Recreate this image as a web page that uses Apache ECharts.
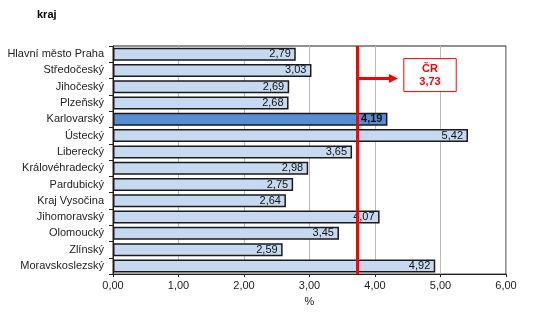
<!DOCTYPE html>
<html><head><meta charset="utf-8">
<script src="https://cdn.jsdelivr.net/npm/echarts@6/dist/echarts.min.js"></script>
<style>html,body{margin:0;padding:0;background:#fff}#c{width:535px;height:312px}</style>
</head><body><div id="c"></div>
<script>
var categories = ["Hlavní město Praha","Středočeský","Jihočeský","Plzeňský","Karlovarský","Ústecký","Liberecký","Královéhradecký","Pardubický","Kraj Vysočina","Jihomoravský","Olomoucký","Zlínský","Moravskoslezský"];
var values = [2.79,3.03,2.69,2.68,4.19,5.42,3.65,2.98,2.75,2.64,4.07,3.45,2.59,4.92];
var highlight = "Karlovarský";
var crValue = 3.73;
var crLabel = "ČR";
var axisTicks = [0,1,2,3,4,5,6];

var fmt = function(v){ return v.toFixed(2).replace('.', ','); };
var chart = echarts.init(document.getElementById('c'));
var data = values.map(function(v,i){
  var hl = categories[i] === highlight;
  return {value:v, itemStyle:{color: hl ? '#558ed5' : '#c6d9f1'},
    label:{fontWeight: hl ? 'bold' : 'normal'}};
});
chart.setOption({
  animation:false,
  title:{text:'kraj', left:32, top:4, textStyle:{fontFamily:'Liberation Sans', fontSize:11, fontWeight:'bold', color:'#000'}},
  grid:{left:113, right:29, top:46, bottom:31, show:true, borderColor:'#222', borderWidth:1},
  xAxis:{type:'value', min:axisTicks[0], max:axisTicks[axisTicks.length-1], interval:1,
    name:'%', nameLocation:'middle', nameGap:17,
    nameTextStyle:{fontFamily:'Liberation Sans', fontSize:11, color:'#222', padding:[0,0,0,0]},
    axisLine:{show:true, lineStyle:{color:'#222'}},
    axisTick:{show:true, length:3, lineStyle:{color:'#222'}},
    axisLabel:{formatter:function(v){return fmt(v);}, fontFamily:'Liberation Sans', fontSize:11, color:'#222', margin:6},
    splitLine:{show:true, lineStyle:{color:'#bbb'}}},
  yAxis:{type:'category', data:categories, inverse:true,
    axisLine:{show:true, lineStyle:{color:'#222'}},
    axisTick:{show:true, length:4, lineStyle:{color:'#222'}},
    axisLabel:{fontFamily:'Liberation Sans', fontSize:11, color:'#222', margin:9}},
  series:[{type:'bar', data:data, barWidth:13,
    itemStyle:{borderColor:'#1a1a1a', borderWidth:1.5},
    label:{show:true, position:'insideRight', distance:5, formatter:function(p){return fmt(p.value);},
      fontFamily:'Liberation Sans', fontSize:11, color:'#111'},
    markLine:{silent:true, symbol:['none','none'], label:{show:false},
      lineStyle:{color:'#ff0000', width:3, type:'solid'},
      data:[{xAxis:crValue}]}
  }]
});
function addAnn(){
  var x0 = chart.convertToPixel({xAxisIndex:0}, crValue);
  var y1 = chart.convertToPixel({yAxisIndex:0}, categories[1]);
  var y2 = chart.convertToPixel({yAxisIndex:0}, categories[2]);
  var ya = (y1+y2)/2;
  var xe = chart.convertToPixel({xAxisIndex:0}, 4.35);
  var bx0 = chart.convertToPixel({xAxisIndex:0}, 4.44);
  var bx1 = chart.convertToPixel({xAxisIndex:0}, 5.24);
  chart.setOption({graphic:[
    {type:'line', shape:{x1:x0, y1:ya, x2:xe-8, y2:ya}, style:{stroke:'#ff0000', lineWidth:3}, z:100},
    {type:'polygon', shape:{points:[[xe-9,ya-4.5],[xe,ya],[xe-9,ya+4.5]]}, style:{fill:'#ff0000'}, z:100},
    {type:'rect', shape:{x:bx0, y:ya-20, width:bx1-bx0, height:33}, style:{fill:'#fff', stroke:'#ff0000', lineWidth:1}, z:100},
    {type:'text', x:(bx0+bx1)/2, y:ya-3.5, style:{text:crLabel+'\n'+fmt(crValue), fill:'#ff0000', font:'bold 11px "Liberation Sans"', align:'center', verticalAlign:'middle', lineHeight:13}, z:101}
  ]});
}
addAnn();
</script></body></html>
